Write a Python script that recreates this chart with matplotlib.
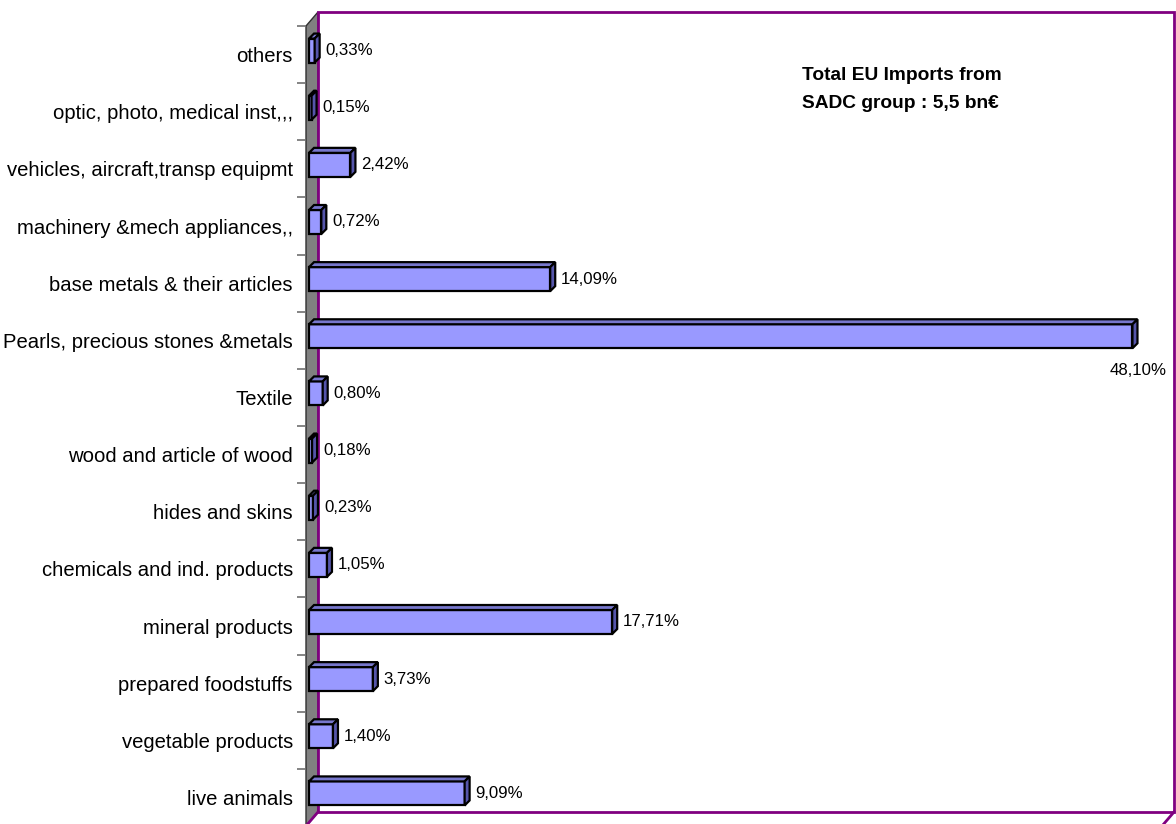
import numpy as np
import matplotlib
matplotlib.use('Agg')
import matplotlib.pyplot as plt
import matplotlib.font_manager as fm
from matplotlib.patches import Polygon, Rectangle
from matplotlib.lines import Line2D

# Données : part des importations UE depuis le groupe SADC (%)
categories = ['live animals', 'vegetable products', 'prepared foodstuffs', 'mineral products',
              'chemicals and ind. products', 'hides and skins', 'wood and article of wood',
              'Textile', 'Pearls, precious stones &metals', 'base metals & their articles',
              'machinery &mech appliances,,', 'vehicles, aircraft,transp equipmt',
              'optic, photo, medical inst,,,', 'others']
shares = [9.09, 1.40, 3.73, 17.71, 1.05, 0.23, 0.18, 0.80, 48.10, 14.09, 0.72, 2.42, 0.15, 0.33]
value_labels = ['9,09%', '1,40%', '3,73%', '17,71%', '1,05%', '0,23%', '0,18%', '0,80%',
                '48,10%', '14,09%', '0,72%', '2,42%', '0,15%', '0,33%']
note_lines = ['Total EU Imports from', 'SADC group : 5,5 bn€']


def pick_font(names):
    for n in names:
        try:
            fm.findfont(fm.FontProperties(family=n), fallback_to_default=False)
            return n
        except ValueError:
            pass
    return 'DejaVu Sans'


font = pick_font(['Liberation Sans Narrow', 'Arial Narrow'])
scale = 1.0
if font == 'DejaVu Sans':
    font = pick_font(['Liberation Sans', 'Arial'])
    scale = 0.86
plt.rcParams['font.family'] = [font, 'DejaVu Sans']

# géométrie (pixels)
W, H = 1176, 824
LEFT, TOP, BOTTOM, PW = 306, 26, 826, 856
DEPTH = (12, 14)        # décalage mur avant -> mur arrière
BAR_OFF = (3, 4)        # face avant des barres
BAR_D = (5, 5)          # profondeur des barres
BAR_H = 0.42
XMAX = 50

fig = plt.figure(figsize=(W / 100, H / 100), dpi=100)
ax = fig.add_axes([LEFT / W, (H - BOTTOM) / H, PW / W, (BOTTOM - TOP) / H])
ax.set_xlim(0, XMAX)
ax.set_ylim(-0.5, len(categories) - 0.5)
ax.patch.set_alpha(0)
for s in ax.spines.values():
    s.set_visible(False)

sx = PW / XMAX
sy = (BOTTOM - TOP) / len(categories)
dxa, dya = DEPTH[0] / PW, DEPTH[1] / (BOTTOM - TOP)
purple = '#800080'

# mur gauche gris
wall = Polygon([(0, 0), (0, 1), (dxa, 1 + dya), (dxa, dya)], closed=True,
               transform=ax.transAxes, facecolor='#808080', edgecolor='#303030',
               lw=1.0, clip_on=False, zorder=1)
ax.add_patch(wall)
# plan arrière et sol
ax.add_patch(Rectangle((dxa, dya), 1, 1, transform=ax.transAxes, fill=False,
                       edgecolor=purple, lw=2, clip_on=False, zorder=1.5))
for x in (0, 1):
    ax.add_line(Line2D([x, x + dxa], [0, dya], transform=ax.transAxes, color=purple,
                       lw=2, clip_on=False, zorder=1.5))

# barres 3D
ox, oy = BAR_OFF[0] / sx, BAR_OFF[1] / sy
ddx, ddy = BAR_D[0] / sx, BAR_D[1] / sy
for i, (v, lab) in enumerate(zip(shares, value_labels)):
    x0, y0 = ox, i - BAR_H / 2 + oy
    y1 = y0 + BAR_H
    ax.add_patch(Rectangle((x0, y0), v, BAR_H, facecolor='#9999FF', edgecolor='black',
                           lw=1.6, zorder=3))
    ax.add_patch(Polygon([(x0, y1), (x0 + v, y1), (x0 + v + ddx, y1 + ddy), (x0 + ddx, y1 + ddy)],
                         closed=True, facecolor='#7777CC', edgecolor='black', lw=1.6, zorder=3))
    ax.add_patch(Polygon([(x0 + v, y0), (x0 + v + ddx, y0 + ddy), (x0 + v + ddx, y1 + ddy), (x0 + v, y1)],
                         closed=True, facecolor='#5555AA', edgecolor='black', lw=1.6, zorder=3))
    if v == max(shares):
        ax.text(x0 + v + 34 / sx, i + oy - 34 / sy, lab, ha='right', va='center',
                fontsize=14 * scale, zorder=4)
    else:
        ax.text(x0 + v + 11 / sx, i + oy, lab, ha='left', va='center',
                fontsize=14 * scale, zorder=4)

# axe des catégories
ax.set_xticks([])
ax.set_yticks(range(len(categories)))
ax.set_yticklabels(categories, fontsize=17 * scale)
ax.set_yticks(np.arange(-0.5, len(categories)), minor=True)
ax.tick_params(axis='y', which='major', length=0, pad=9.5)
ax.tick_params(axis='y', which='minor', length=6.5, width=1.2, color='#707070')

for k, line in enumerate(note_lines):
    fig.text(802 / W, 1 - (75 + 28 * k) / H, line, ha='left', va='center',
             fontsize=16 * scale, fontweight='bold')

fig.savefig('out.png', dpi=100)
